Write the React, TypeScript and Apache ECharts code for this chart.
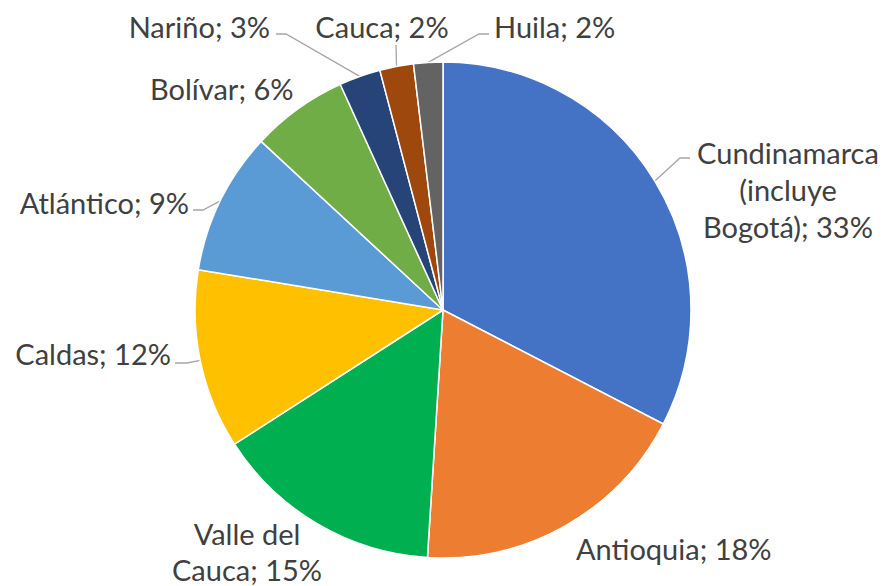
import React, { useEffect, useRef } from "react";
import * as echarts from "echarts";

const categories = [
  "Cundinamarca\n(incluye\nBogotá)",
  "Antioquia",
  "Valle del\nCauca",
  "Caldas",
  "Atlántico",
  "Bolívar",
  "Nariño",
  "Cauca",
  "Huila",
];
const values = [32.6, 18.4, 14.9, 11.7, 9.3, 6.3, 2.7, 2.2, 1.9];
const colors = [
  "#4472C4",
  "#ED7D31",
  "#00B050",
  "#FFC000",
  "#5B9BD5",
  "#70AD47",
  "#264478",
  "#9E480E",
  "#636363",
];

// label layout: anchor, alignment, optional leader elbow/end points
const labelSpots: any[] = [
  { x: 788, y: 189, align: "center", lh: 37, line: [[680, 158], [690, 158]] },
  { x: 576, y: 548, align: "left" },
  { x: 247, y: 551, align: "center", lh: 36 },
  { x: 171, y: 353, align: "right", line: [[187, 363], [175, 363]] },
  { x: 189, y: 202, align: "right", line: [[203, 210], [193, 210]] },
  { x: 150, y: 88, align: "left" },
  { x: 270, y: 26, align: "right", line: [[286, 34], [276, 34]] },
  { x: 382, y: 26, align: "center", line: [[396, 45], [396, 45]] },
  { x: 494, y: 26, align: "left", line: [[479, 34], [489, 34]] },
];

export default function App() {
  const ref = useRef<HTMLDivElement>(null);
  useEffect(() => {
    if (!ref.current) return;
    const chart = echarts.init(ref.current, null, { renderer: "svg" });
    chart.setOption({
      animation: false,
      backgroundColor: "#ffffff",
      series: [
        {
          type: "pie",
          center: [443, 310],
          radius: [0, 248],
          startAngle: 90,
          clockwise: true,
          avoidLabelOverlap: false,
          itemStyle: { borderColor: "#ffffff", borderWidth: 1.5 },
          label: {
            show: true,
            color: "#404040",
            fontFamily: "Lato, 'Noto Sans', sans-serif",
            fontSize: 29,
            lineHeight: 38,
            formatter: (p: any) => `${p.name}; ${Math.round(p.percent)}%`,
          },
          labelLine: {
            show: true,
            lineStyle: { color: "#A6A6A6", width: 1.3 },
          },
          labelLayout: (params: any) => {
            const s = labelSpots[params.dataIndex];
            const out: any = {
              x: s.x,
              y: s.y,
              align: s.align,
              verticalAlign: "middle",
            };
            if (s.line && params.labelLinePoints) {
              out.labelLinePoints = [params.labelLinePoints[0], s.line[0], s.line[1]];
            }
            return out;
          },
          data: categories.map((name, i) => ({
            name,
            value: values[i],
            itemStyle: { color: colors[i] },
            label: labelSpots[i].lh ? { lineHeight: labelSpots[i].lh } : undefined,
            labelLine: { show: !!labelSpots[i].line },
          })),
        },
      ],
    });
    return () => chart.dispose();
  }, []);
  return (
    <div
      ref={ref}
      style={{ position: "fixed", left: 0, top: 0, width: 884, height: 586 }}
    />
  );
}
